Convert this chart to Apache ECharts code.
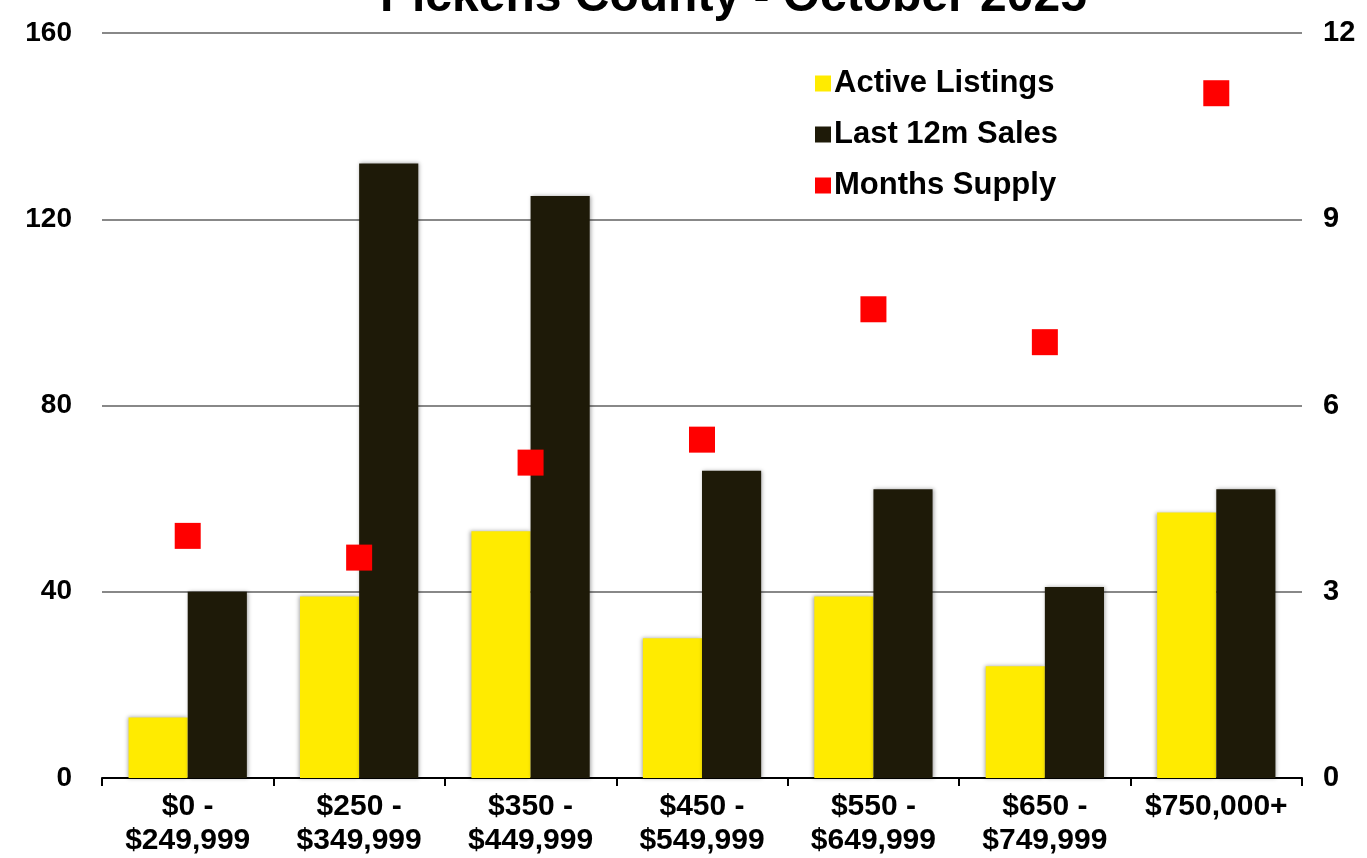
<!DOCTYPE html>
<html>
<head>
<meta charset="utf-8">
<script src="https://cdn.jsdelivr.net/npm/echarts@6/dist/echarts.min.js"></script>
<style>
  html, body { margin: 0; padding: 0; background: #fff; }
  #main { width: 1367px; height: 858px; }
</style>
</head>
<body>
<div id="main"></div>
<script>
// price bands
var categories = ['$0 -\n$249,999', '$250 -\n$349,999', '$350 -\n$449,999', '$450 -\n$549,999',
                  '$550 -\n$649,999', '$650 -\n$749,999', '$750,000+'];
var activeListings = [13, 39, 53, 30, 39, 24, 57];
var lastSales = [40, 132, 125, 66, 62, 41, 62];
var monthsSupply = [3.9, 3.55, 5.08, 5.45, 7.55, 7.02, 11.03];

var leftTicks = [0, 40, 80, 120, 160];
var rightTicks = [0, 3, 6, 9, 12];

var chart = echarts.init(document.getElementById('main'));

var boldFont = 'Liberation Sans, Arial, Helvetica, sans-serif';

var option = {
    animation: false,
    backgroundColor: '#fff',
    title: {
        text: 'Pickens County - October 2025',
        left: 375,
        top: -31,
        textStyle: { fontFamily: boldFont, fontWeight: 'bold', fontSize: 48, color: '#000' }
    },
    legend: {
        orient: 'vertical',
        left: 810,
        top: 63,
        itemGap: 20,
        itemWidth: 16,
        itemHeight: 16,
        textStyle: { fontFamily: boldFont, fontWeight: 'bold', fontSize: 31, color: '#000', padding: [0, 0, 0, -2] },
        data: [
            { name: 'Active Listings', icon: 'rect' },
            { name: 'Last 12m Sales', icon: 'rect' },
            { name: 'Months Supply', icon: 'rect' }
        ]
    },
    grid: { left: 102, right: 65, top: 33, bottom: 78 },
    xAxis: {
        type: 'category',
        data: categories,
        axisLine: { lineStyle: { color: '#000', width: 2 } },
        axisTick: { show: true, length: 8, lineStyle: { color: '#000', width: 2 } },
        axisLabel: {
            interval: 0,
            margin: 12,
            fontFamily: boldFont,
            fontWeight: 'bold',
            fontSize: 30,
            lineHeight: 34,
            color: '#000'
        }
    },
    yAxis: [{
        type: 'value',
        min: leftTicks[0],
        max: leftTicks[leftTicks.length - 1],
        interval: 40,
        axisLine: { show: false },
        axisTick: { show: false },
        splitLine: { lineStyle: { color: '#888', width: 2 } },
        axisLabel: { margin: 30, fontFamily: boldFont, fontWeight: 'bold', fontSize: 28, color: '#000' }
    }, {
        type: 'value',
        min: rightTicks[0],
        max: rightTicks[rightTicks.length - 1],
        interval: 3,
        axisLine: { show: false },
        axisTick: { show: false },
        splitLine: { show: false },
        axisLabel: { margin: 21, fontFamily: boldFont, fontWeight: 'bold', fontSize: 29, color: '#000' }
    }],
    series: [{
        name: 'Active Listings',
        type: 'bar',
        data: activeListings,
        barGap: '0%',
        barCategoryGap: '31%',
        itemStyle: { color: '#FFEB00', shadowColor: 'rgba(0,0,0,0.35)', shadowBlur: 4, shadowOffsetX: -1 }
    }, {
        name: 'Last 12m Sales',
        type: 'bar',
        data: lastSales,
        itemStyle: { color: '#1E1A08', shadowColor: 'rgba(0,0,0,0.35)', shadowBlur: 4, shadowOffsetX: 1 }
    }, {
        name: 'Months Supply',
        type: 'scatter',
        yAxisIndex: 1,
        data: monthsSupply,
        symbol: 'rect',
        symbolSize: 26,
        itemStyle: { color: '#FF0000', opacity: 1 },
        z: 5
    }]
};

chart.setOption(option);
</script>
</body>
</html>
